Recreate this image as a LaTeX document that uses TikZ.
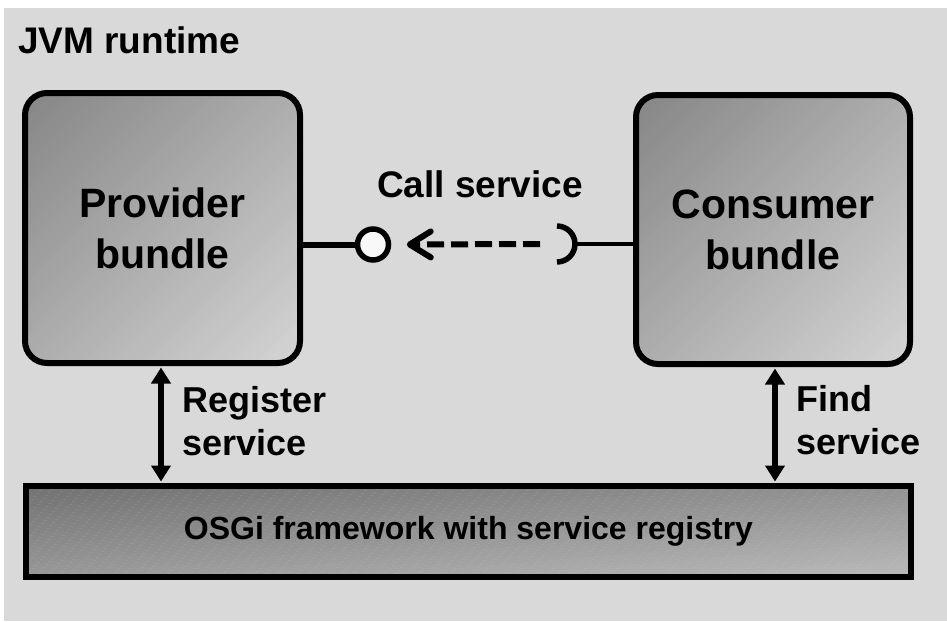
\documentclass[tikz,border=0pt]{standalone}
\usepackage{fontspec}
\setmainfont{Liberation Sans}
\usetikzlibrary{arrows.meta,calc}
\definecolor{bg}{HTML}{D9D9D9}
\definecolor{bdark}{HTML}{868686}
\definecolor{blight}{HTML}{D4D4D4}
\definecolor{odark}{HTML}{727272}
\definecolor{olight}{HTML}{B9B9B9}
\definecolor{lollifill}{HTML}{F8F8F8}
\tikzset{
  diaggrad/.style n args={3}{path picture={
    \foreach \i in {0,...,59} {
      \pgfmathsetmacro\mix{100*(1-\i/59)}
      \fill[#1!\mix!#2] let \p1=(path picture bounding box.north west),
        \p2=(path picture bounding box.south east),
        \n1={(#3*(\x2-\x1)+\y1-\y2)/60}, \n2={\i*\n1/#3}, \n3={(\i+1.1)*\n1/#3} in
        ({\x1+\n2-3000pt},{\y1-3000pt*#3}) -- ({\x1+\n2+3000pt},{\y1+3000pt*#3})
        -- ({\x1+\n3+3000pt},{\y1+3000pt*#3}) -- ({\x1+\n3-3000pt},{\y1-3000pt*#3}) -- cycle;
    }}},
  bundle/.style={draw, line width=6pt, rounded corners=22pt, minimum width=275pt,
    minimum height=270pt, diaggrad={bdark}{blight}{1},
    align=center, inner sep=0pt, font=\bfseries\fontsize{41}{51}\selectfont},
  osgibox/.style={draw, line width=6pt, minimum width=885pt, minimum height=90.5pt,
    diaggrad={odark}{olight}{0.085}, inner sep=0pt,
    font=\bfseries\fontsize{32}{38}\selectfont},
  lbl/.style={inner sep=0pt, align=left, font=\bfseries\fontsize{36}{43}\selectfont},
  lolli/.style={circle, draw, line width=5.5pt, fill=lollifill, minimum size=31pt, inner sep=0pt},
  varrow/.style={line width=5.5pt, shorten <=1.5pt, shorten >=1.5pt,
    {Triangle[width=19pt,length=16pt]}-{Triangle[width=19pt,length=16pt]}},
  callarrow/.style={line width=6pt, dash pattern=on 17pt off 7pt,
    -{Straight Barb[length=21pt,width=26pt,round]}}
}
\begin{document}
\begin{tikzpicture}[x=1pt,y=1pt]
\useasboundingbox (0,0) rectangle (947,-621);
\fill[bg] (4,-8) rectangle (947,-621);

\node[lbl, anchor=base west, font=\bfseries\fontsize{37}{44}\selectfont] (jvm) at (18,-53) {JVM runtime};

\node[bundle] (prov) at (162.5,-228) {Provider\\bundle};
\node[bundle, minimum width=274pt, minimum height=269pt] (cons) at (773,-229.5) {Consumer\\bundle};
\node[osgibox] (osgi) at (468.5,-531.3) {OSGi framework with service registry};

\coordinate (sock) at (557,-244);
\draw[line width=6.5pt] (prov.east |- 0,-245) -- (373,-245);
\node[lolli] (lolli) at (373,-244.5) {};
\draw[line width=5.5pt] ([yshift=18pt]sock) arc (90:-90:18pt);
\draw[line width=4.5pt] ([xshift=18pt]sock) -- (sock -| cons.west);
\draw[callarrow] ([xshift=-17pt]sock) -- ([xshift=15.5pt]lolli.east);
\node[lbl, anchor=base, font=\bfseries\fontsize{37}{44}\selectfont] (call) at (480,-197) {Call service};

\draw[varrow] ([xshift=-1.5pt]prov.south) -- ([xshift=-1.5pt]prov.south |- osgi.north);
\draw[varrow] ([xshift=2pt]cons.south) -- ([xshift=2pt]cons.south |- osgi.north);
\node[lbl, anchor=north west] (reg) at (182,-386) {Register\\service};
\node[lbl, anchor=north west] (find) at (796,-385) {Find\\service};
\end{tikzpicture}
\end{document}
